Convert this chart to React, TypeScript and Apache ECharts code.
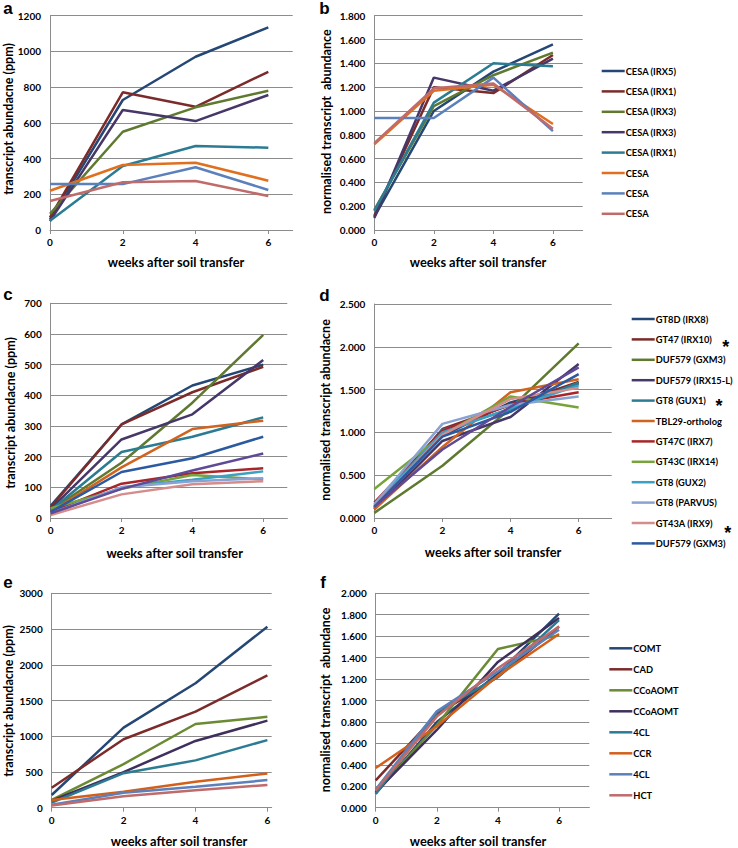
import React, { useEffect, useRef } from 'react';
import * as echarts from 'echarts';

const weeks = [0, 2, 4, 6];

// Panel a / b: CESA genes
const cesaNames = ['CESA (IRX5)', 'CESA (IRX1)', 'CESA (IRX3)', 'CESA (IRX3)', 'CESA (IRX1)', 'CESA', 'CESA', 'CESA'];
const cesaColors = ['#254775', '#7B2C2A', '#5F7A30', '#463768', '#2B7C93', '#E0701F', '#5B80BC', '#C06B6B'];
const cesaPpm = [
  [60, 728, 970, 1135],
  [70, 771, 690, 886],
  [90, 550, 687, 780],
  [50, 672, 610, 756],
  [52, 358, 470, 461],
  [220, 364, 377, 276],
  [257, 257, 351, 224],
  [162, 267, 274, 190],
];
const cesaNorm = [
  [0.11, 1.0, 1.33, 1.56],
  [0.12, 1.2, 1.15, 1.47],
  [0.17, 1.04, 1.3, 1.49],
  [0.1, 1.28, 1.17, 1.44],
  [0.16, 1.07, 1.4, 1.375],
  [0.72, 1.17, 1.22, 0.89],
  [0.94, 0.94, 1.28, 0.83],
  [0.73, 1.19, 1.23, 0.85],
];

// Panel c / d: xylan genes
const xylNames = ['GT8D (IRX8)', 'GT47 (IRX10)', 'DUF579 (GXM3)', 'DUF579 (IRX15-L)', 'GT8 (GUX1)', 'TBL29-ortholog', 'GT47C (IRX7)', 'GT43C (IRX14)', 'GT8 (GUX2)', 'GT8 (PARVUS)', 'GT43A (IRX9)', 'DUF579 (GXM3)'];
const xylColors = ['#254775', '#7B2C2A', '#5F7A30', '#463768', '#2B7C93', '#D0631E', '#A8262A', '#78A33C', '#3AA0C4', '#8AA2D2', '#D48C8C', '#2C5AA0'];
const xylPpm = [
  [40, 305, 432, 500],
  [35, 305, 410, 493],
  [25, 180, 376, 597],
  [30, 256, 338, 515],
  [25, 215, 265, 328],
  [20, 165, 290, 317],
  [20, 112, 146, 162],
  [32, 95, 140, 126],
  [15, 100, 125, 152],
  [15, 100, 120, 130],
  [10, 77, 110, 120],
  [20, 150, 195, 265],
];
const xylNorm = [
  [0.13, 0.96, 1.35, 1.57],
  [0.11, 1.04, 1.32, 1.59],
  [0.06, 0.61, 1.28, 2.04],
  [0.1, 0.9, 1.18, 1.8],
  [0.12, 1.03, 1.27, 1.58],
  [0.1, 0.83, 1.47, 1.62],
  [0.18, 1.02, 1.33, 1.47],
  [0.34, 0.97, 1.42, 1.29],
  [0.15, 1.0, 1.28, 1.55],
  [0.16, 1.1, 1.32, 1.42],
  [0.13, 0.97, 1.39, 1.52],
  [0.13, 0.95, 1.24, 1.68],
];
// an additional unlabelled line visible in panels c and d
const xylExtraColor = '#5E4A96';
const xylExtraPpm = [15, 95, 155, 210];
const xylExtraNorm = [0.13, 0.8, 1.3, 1.76];

// Panel e / f: lignin genes
const ligNames = ['COMT', 'CAD', 'CCoAOMT', 'CCoAOMT', '4CL', 'CCR', '4CL', 'HCT'];
const ligColors = ['#254775', '#7B2C2A', '#6A8A34', '#3E2F5C', '#2B7C93', '#D2601A', '#5B80BC', '#C06B6B'];
const ligPpm = [
  [178, 1120, 1742, 2532],
  [280, 958, 1344, 1852],
  [110, 611, 1171, 1272],
  [100, 499, 934, 1218],
  [70, 483, 662, 946],
  [108, 224, 364, 480],
  [40, 210, 294, 386],
  [30, 160, 245, 318],
];
const ligNorm = [
  [0.13, 0.8, 1.25, 1.81],
  [0.255, 0.87, 1.22, 1.69],
  [0.14, 0.77, 1.48, 1.61],
  [0.145, 0.725, 1.36, 1.77],
  [0.13, 0.89, 1.22, 1.75],
  [0.37, 0.76, 1.23, 1.62],
  [0.17, 0.9, 1.27, 1.66],
  [0.16, 0.85, 1.3, 1.69],
];

const FONT = 'Lato, "Open Sans", sans-serif';
const GRID_COLOR = '#8c8c8c';

export default function App() {
  const ref = useRef<HTMLDivElement>(null);
  useEffect(() => {
    if (!ref.current) return;
    const chart = echarts.init(ref.current, undefined, { renderer: 'svg' });

    const grids = [
      { left: 50, top: 15.7, width: 242.7, height: 214.3 },
      { left: 374.3, top: 15.7, width: 208.4, height: 214.3 },
      { left: 50.7, top: 303.3, width: 236.6, height: 214.7 },
      { left: 374.3, top: 304, width: 237.4, height: 214 },
      { left: 51.7, top: 593.3, width: 220, height: 214.4 },
      { left: 375.7, top: 593.3, width: 213.6, height: 214.4 },
    ];
    const xMaxes = [6.67, 7.0, 6.68, 6.97, 6.12, 6.99];
    const yCfg = [
      { max: 1200, interval: 200, dec: 0 },
      { max: 1.8, interval: 0.2, dec: 3 },
      { max: 700, interval: 100, dec: 0 },
      { max: 2.5, interval: 0.5, dec: 3 },
      { max: 3000, interval: 500, dec: 0 },
      { max: 2.0, interval: 0.2, dec: 3 },
    ];
    const labelStyle = { color: '#000', fontWeight: 'bold' as const, fontSize: 10, fontFamily: FONT };

    const xAxis = grids.map((_, i) => ({
      type: 'value', gridIndex: i, min: 0, max: xMaxes[i],
      axisLine: { show: true, lineStyle: { color: GRID_COLOR, width: 1 } },
      axisTick: { show: true, customValues: weeks, length: 4, lineStyle: { color: GRID_COLOR } },
      axisLabel: { ...labelStyle, customValues: weeks, margin: 7 },
      splitLine: { show: false },
    }));
    const yAxis = grids.map((_, i) => ({
      type: 'value', gridIndex: i, min: 0, max: yCfg[i].max, interval: yCfg[i].interval,
      axisLine: { show: true, lineStyle: { color: GRID_COLOR, width: 1 } },
      axisTick: { show: false },
      axisLabel: { ...labelStyle, margin: 9, formatter: (v: number) => v.toFixed(yCfg[i].dec) },
      splitLine: { show: true, lineStyle: { color: GRID_COLOR, width: 1 } },
    }));

    const series: any[] = [];
    const uniq = (names: string[]) => names.map((n, i) => `${n}|${i}`);
    const cesaKeys = uniq(cesaNames);
    const xylKeys = uniq(xylNames);
    const ligKeys = uniq(ligNames);
    const addSeries = (keys: string[], colors: string[], values: number[][], idx: number) => {
      values.forEach((vals, s) => {
        series.push({
          type: 'line', name: keys[s], xAxisIndex: idx, yAxisIndex: idx,
          data: weeks.map((w, k) => [w, vals[k]]),
          showSymbol: false, symbol: 'none',
          lineStyle: { color: colors[s], width: 2.5 },
          itemStyle: { color: colors[s] },
        });
      });
    };
    addSeries(cesaKeys, cesaColors, cesaPpm, 0);
    addSeries(cesaKeys, cesaColors, cesaNorm, 1);
    addSeries(xylKeys, xylColors, xylPpm, 2);
    addSeries(['extra|c'], [xylExtraColor], [xylExtraPpm], 2);
    addSeries(xylKeys, xylColors, xylNorm, 3);
    addSeries(['extra|d'], [xylExtraColor], [xylExtraNorm], 3);
    addSeries(ligKeys, ligColors, ligPpm, 4);
    addSeries(ligKeys, ligColors, ligNorm, 5);

    const legendBase = {
      orient: 'vertical', icon: 'rect', itemWidth: 23, itemHeight: 2.5, padding: 0,
      textStyle: { color: '#000', fontWeight: 'bold', fontSize: 9.3, fontFamily: FONT, lineHeight: 14, padding: [0, 0, 0, -4] },
      formatter: (n: string) => n.split('|')[0],
      selectedMode: false,
    };
    const legend = [
      { ...legendBase, data: cesaKeys, left: 601.7, top: 64, itemGap: 6.4 },
      { ...legendBase, data: xylKeys, left: 631.7, top: 312, itemGap: 6.4 },
      { ...legendBase, data: ligKeys, left: 609.3, top: 641.3, itemGap: 7 },
    ];

    const letter = (t: string, x: number, y: number) => ({
      type: 'text', x, y,
      style: { text: t, font: 'bold 17px "Liberation Sans", Arial, sans-serif', fill: '#000', textAlign: 'center', textVerticalAlign: 'middle' },
    });
    const ytitle = (t: string, x: number, y: number) => ({
      type: 'text', x, y, rotation: Math.PI / 2,
      style: { text: t, font: `bold 12.5px ${FONT}`, fill: '#000', textAlign: 'center', textVerticalAlign: 'middle' },
    });
    const xtitle = (x: number, y: number) => ({
      type: 'text', x, y,
      style: { text: 'weeks after soil transfer', font: `bold 12.8px ${FONT}`, fill: '#000', textAlign: 'center', textVerticalAlign: 'middle' },
    });
    const star = (x: number, y: number) => ({
      type: 'text', x, y,
      style: { text: '*', font: 'bold 18px "Liberation Sans", Arial, sans-serif', fill: '#000', textAlign: 'center', textVerticalAlign: 'middle' },
    });

    const graphic = [
      letter('a', 8, 8), letter('b', 324.5, 8), letter('c', 8, 294), letter('d', 324.5, 295), letter('e', 8, 582), letter('f', 323, 582),
      ytitle('transcript abundacne (ppm)', 8.5, 119),
      ytitle('normalised transcript  abundance', 326, 121.7),
      ytitle('transcript abundacne (ppm)', 10, 413),
      ytitle('normalised transcript abundacne', 325, 410),
      ytitle('transcript abundacne (ppm)', 8.5, 701),
      ytitle('normalised transcript  abundance', 325, 700),
      xtitle(176, 261.7), xtitle(478, 261.7), xtitle(174.7, 552.7), xtitle(493, 551.7), xtitle(179, 841), xtitle(478, 841),
      star(725.7, 347), star(719, 406), star(727.7, 533),
    ];

    chart.setOption({
      animation: false,
      backgroundColor: '#fff',
      grid: grids.map((g) => ({ ...g, containLabel: false })),
      xAxis, yAxis, series, legend, graphic,
    } as any);
    return () => chart.dispose();
  }, []);
  return <div ref={ref} style={{ position: 'fixed', left: 0, top: 0, width: 738, height: 848 }} />;
}
